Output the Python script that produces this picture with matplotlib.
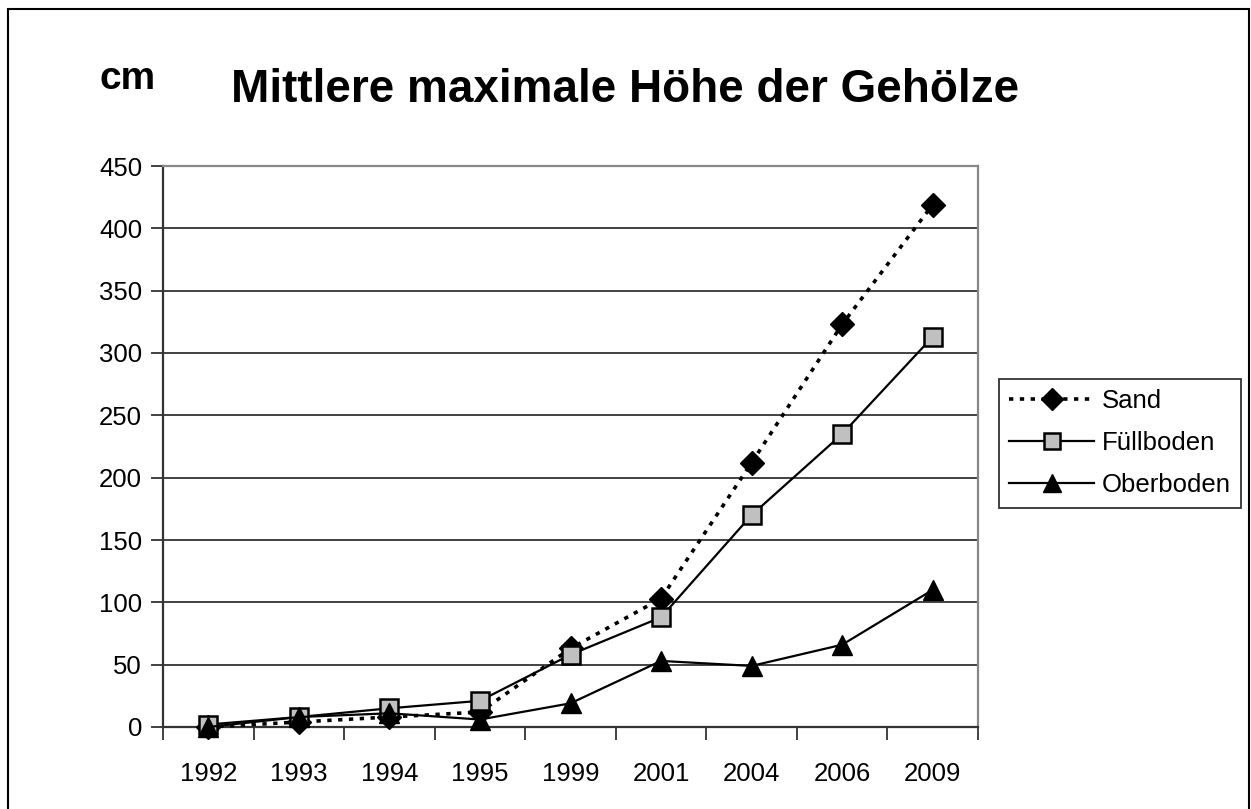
import matplotlib
matplotlib.use("Agg")
import matplotlib.pyplot as plt
from matplotlib.patches import Rectangle

plt.rcParams['font.family'] = ['Liberation Sans', 'DejaVu Sans']

years = ["1992", "1993", "1994", "1995", "1999", "2001", "2004", "2006", "2009"]
sand = [0, 4, 8, 12, 63, 103, 212, 323, 419]
fuellboden = [2, 8, 15, 21, 58, 88, 170, 235, 313]
oberboden = [0, 8, 11, 6, 19, 53, 49, 66, 110]

W, H = 1251, 809
fig = plt.figure(figsize=(W / 100, H / 100), dpi=100)

# outer frame of the chart (bottom edge is cut off in the original)
fig.patches.append(Rectangle((8 / W, -0.05), (1249 - 8) / W, 1.05 - 9 / H,
                             transform=fig.transFigure, fill=False,
                             edgecolor="black", linewidth=1.5, clip_on=False))

ax = fig.add_axes([163 / W, 1 - 727 / H, (978 - 163) / W, (727 - 166) / H])

x = list(range(len(years)))
ax.plot(x, sand, color="black", linestyle=(0, (1.2, 1.8)), linewidth=2.6,
        marker="D", markersize=12, markerfacecolor="black",
        markeredgecolor="black", label="Sand", clip_on=False, zorder=3)
ax.plot(x, fuellboden, color="black", linestyle="-", linewidth=1.6,
        marker="s", markersize=13, markerfacecolor="#c0c0c0",
        markeredgecolor="black", markeredgewidth=1.8, label="Füllboden",
        clip_on=False, zorder=4)
ax.plot(x, oberboden, color="black", linestyle="-", linewidth=1.6,
        marker="^", markersize=15, markerfacecolor="black",
        markeredgecolor="black", label="Oberboden", clip_on=False, zorder=5)

ax.set_xlim(-0.5, len(years) - 0.5)
ax.set_ylim(0, 450)
ax.set_yticks(range(0, 451, 50))
ax.set_xticks(x)
ax.set_xticklabels(years)
ax.set_xticks([i - 0.5 for i in range(len(years) + 1)], minor=True)
ax.tick_params(axis="x", which="major", length=0, pad=25, labelsize=18.5)
ax.tick_params(axis="x", which="minor", length=9, width=1.3, color="#333333")
ax.tick_params(axis="y", length=9, width=1.3, color="#333333", pad=6,
               labelsize=18.5)

ax.grid(axis="y", color="#333333", linewidth=1.3)
ax.set_axisbelow(True)
for s in ["left", "bottom"]:
    ax.spines[s].set_color("#333333")
    ax.spines[s].set_linewidth(1.6)
for s in ["top", "right"]:
    ax.spines[s].set_color("#888888")
    ax.spines[s].set_linewidth(1.6)

leg = ax.legend(loc="upper left", bbox_to_anchor=(999 / W, 1 - 379 / H),
                bbox_transform=fig.transFigure, fontsize=18.5, frameon=True,
                fancybox=False, edgecolor="black", handlelength=3.3,
                borderpad=0.4, labelspacing=0.7, handletextpad=0.3,
                borderaxespad=0, markerscale=0.9)
leg.get_frame().set_linewidth(1.3)

fig.text(625 / W, 1 - 102 / H, "Mittlere maximale Höhe der Gehölze",
         ha="center", va="baseline", fontsize=33, fontweight="bold")
fig.text(100 / W, 1 - 89 / H, "cm", ha="left", va="baseline",
         fontsize=28, fontweight="bold")

fig.savefig("out.png", dpi=100)
